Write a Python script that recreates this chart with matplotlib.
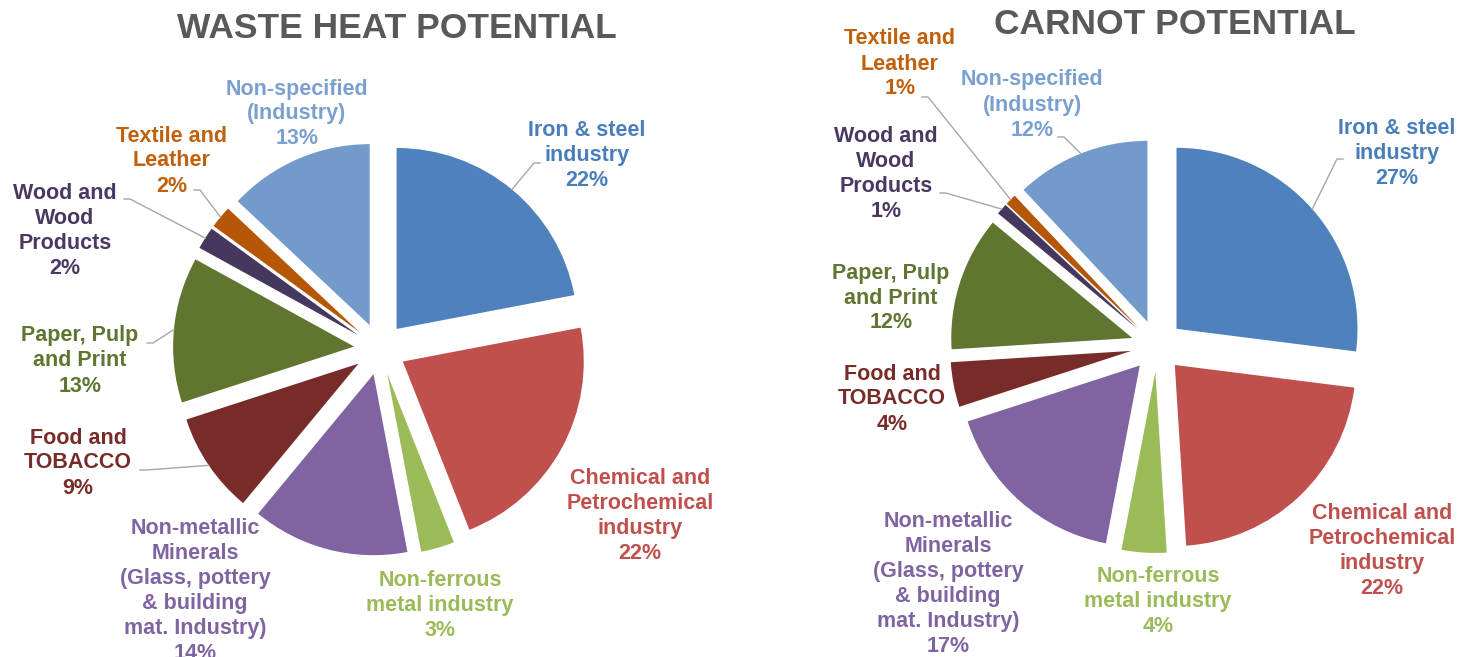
import numpy as np
import matplotlib
matplotlib.use("Agg")
import matplotlib.pyplot as plt

plt.rcParams['font.family'] = ['Liberation Sans', 'DejaVu Sans']

W, H = 1460, 657

categories = ["Iron & steel\nindustry", "Chemical and\nPetrochemical\nindustry",
              "Non-ferrous\nmetal industry",
              "Non-metallic\nMinerals\n(Glass, pottery\n& building\nmat. Industry)",
              "Food and\nTOBACCO", "Paper, Pulp\nand Print", "Wood and\nWood\nProducts",
              "Textile and\nLeather", "Non-specified\n(Industry)"]
waste_heat = [22, 22, 3, 14, 9, 13, 2, 2, 13]
carnot = [27, 22, 4, 17, 4, 12, 1, 1, 12]
titles = ["WASTE HEAT POTENTIAL", "CARNOT POTENTIAL"]

slice_colors = ["#4F81BD", "#C0504D", "#9BBB59", "#8064A2", "#772C2A",
                "#5F7530", "#46375E", "#B65708", "#729ACA"]
label_colors = ["#4A7EBB", "#C0504D", "#9BBB59", "#8064A2", "#772C2A",
                "#5F7530", "#4B3862", "#C0600A", "#7AA0CF"]

# layout (pixel coordinates, y from top)
pies = [
    dict(values=waste_heat, title=titles[0], center=(380, 349), title_xy=(397, 28),
         label_xy=[(587, 156), (640, 516), (440, 605), (195, 591), (78, 463),
                   (80, 361), (65, 231), (172, 161), (297, 114)],
         leaders={0: (540, 163), 7: (194, 190), 6: (124, 199), 5: (147, 343), 4: (140, 470)}),
    dict(values=carnot, title=titles[1], center=(1157, 346), title_xy=(1175, 25),
         label_xy=[(1397, 153), (1382, 551), (1158, 602), (948, 584), (892, 399),
                   (891, 298), (886, 174), (900, 64), (1032, 105)],
         leaders={7: (922, 97), 8: (1058, 137), 6: (940, 193), 0: (1343, 159)}),
]
R = 181
EXPLODE = 26

fig = plt.figure(figsize=(W / 100, H / 100), dpi=100)
ax = fig.add_axes([0, 0, 1, 1])

for p in pies:
    cx, cy = p["center"]
    wedges, _ = ax.pie(p["values"], colors=slice_colors, startangle=90, counterclock=False,
                       radius=R, center=(cx, H - cy), explode=[EXPLODE] * len(p["values"]),
                       wedgeprops=dict(linewidth=0))
    tx, ty = p["title_xy"]
    ax.text(tx, H - ty, p["title"], ha="center", va="center", fontsize=25.5,
            fontweight="bold", color="#595959")
    for i, (cat, val) in enumerate(zip(categories, p["values"])):
        lx, ly = p["label_xy"][i]
        ax.text(lx, H - ly, f"{cat}\n{val}%", ha="center", va="center", fontsize=15.5,
                fontweight="bold", color=label_colors[i], linespacing=1.25)
    for i, (sx, sy) in p["leaders"].items():
        w = wedges[i]
        th = np.deg2rad((w.theta1 + w.theta2) / 2)
        ex = w.center[0] + w.r * np.cos(th)
        ey = w.center[1] + w.r * np.sin(th)
        d = 6 if ex > sx else -6
        ax.plot([sx, sx + d, ex], [H - sy, H - sy, ey], color="#A6A6A6", linewidth=1.0)

ax.set_xlim(0, W)
ax.set_ylim(0, H)
ax.set_aspect("equal")
ax.axis("off")
fig.savefig("out.png", dpi=100)
